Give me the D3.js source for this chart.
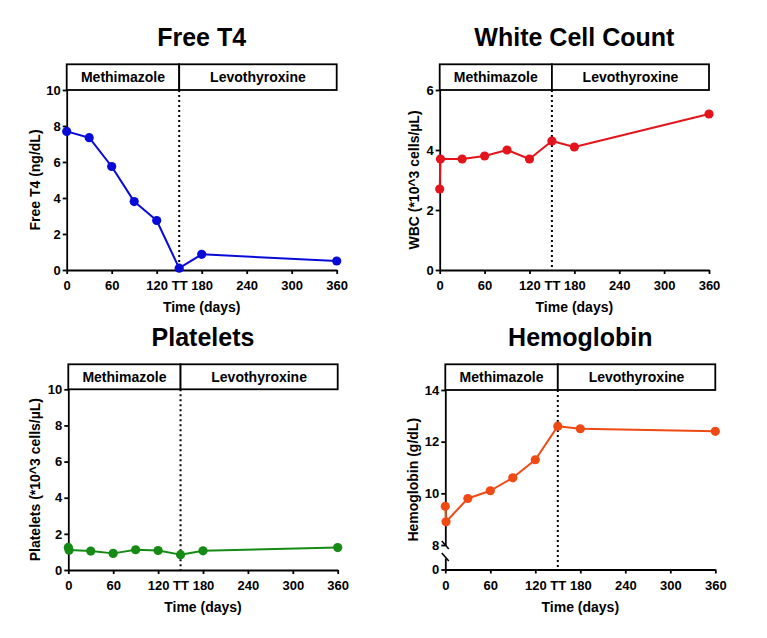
<!DOCTYPE html>
<html>
<head>
<meta charset="utf-8">
<script src="https://cdn.jsdelivr.net/npm/d3@7"></script>
<style>
  html, body { margin: 0; padding: 0; background: #fff; }
  svg { display: block; font-family: "Liberation Sans", Arial, Helvetica, sans-serif; }
</style>
</head>
<body>
<svg id="chart" width="767" height="638"></svg>
<script>
// ---------------- DATA ----------------
const phaseLabels = ["Methimazole", "Levothyroxine"];
const switchDay = 150;            // "TT" marker
const xTickValues = [0, 60, 120, 150, 180, 240, 300, 360];
const xTickLabels = ["0", "60", "120", "TT", "180", "240", "300", "360"];

const t4Days   = [0, 30, 60, 90, 120, 150, 180, 360];
const t4Values = [7.7, 7.35, 5.75, 3.8, 2.75, 0.1, 0.87, 0.5];

const wbcDays   = [0, 1, 30, 60, 90, 120, 150, 180, 360];
const wbcValues = [2.7, 3.7, 3.7, 3.8, 4.0, 3.7, 4.3, 4.1, 5.2];

const pltDays   = [0, 1, 30, 60, 90, 120, 150, 180, 360];
const pltValues = [1.25, 1.1, 1.05, 0.92, 1.12, 1.08, 0.85, 1.06, 1.24];

const hgbDays   = [0, 1, 30, 60, 90, 120, 150, 180, 360];
const hgbValues = [9.5, 8.9, 9.8, 10.1, 10.6, 11.3, 12.6, 12.5, 12.4];

const t4Ticks  = [0, 2, 4, 6, 8, 10];
const wbcTicks = [0, 2, 4, 6];
const pltTicks = [0, 2, 4, 6, 8, 10];
const hgbTicksUpper = [8, 10, 12, 14];
const hgbTicksLower = [0];

// ---------------- DRAW ----------------
const svg = d3.select("#chart");
const fmt = d3.format("d");

function styleAxis(a) {
  a.selectAll("text").style("font-size", "13px").style("font-weight", "bold").attr("fill", "#000");
  a.selectAll("line, path").attr("stroke", "#000").attr("stroke-width", 1.8);
}

function drawPanel(cfg) {
  const g = svg.append("g");
  const x = d3.scaleLinear().domain([0, 360]).range([cfg.x0, cfg.x1]);
  const y = d3.scaleLinear().domain(cfg.yDomain).range([cfg.yBot, cfg.yTop]);

  // Title
  g.append("text")
    .attr("x", (cfg.x0 + cfg.x1) / 2).attr("y", cfg.titleY)
    .attr("text-anchor", "middle")
    .style("font-size", "25px").style("font-weight", "bold")
    .text(cfg.title);

  // Phase header boxes
  const bx = [[0, switchDay], [switchDay, 360]];
  bx.forEach((b, i) => {
    g.append("rect")
      .attr("x", x(b[0])).attr("y", cfg.boxTop)
      .attr("width", x(b[1]) - x(b[0])).attr("height", cfg.yTop - cfg.boxTop)
      .attr("fill", "#fff").attr("stroke", "#000").attr("stroke-width", 1.8);
    g.append("text")
      .attr("x", (x(b[0]) + x(b[1])) / 2)
      .attr("y", (cfg.boxTop + cfg.yTop) / 2 + 5)
      .attr("text-anchor", "middle")
      .style("font-size", "14px").style("font-weight", "bold")
      .text(phaseLabels[i]);
  });

  // Dotted switch line
  g.append("line")
    .attr("x1", x(switchDay)).attr("x2", x(switchDay))
    .attr("y1", cfg.yTop).attr("y2", cfg.yBot)
    .attr("stroke", "#000").attr("stroke-width", 2)
    .attr("stroke-dasharray", "2,3");

  // X axis
  const xAxis = d3.axisBottom(x)
    .tickValues(xTickValues)
    .tickFormat((d, i) => xTickLabels[i])
    .tickSize(4).tickSizeOuter(0).tickPadding(7);
  const xg = g.append("g").attr("transform", `translate(0,${cfg.yBot})`).call(xAxis);
  xg.selectAll(".tick").filter(d => d === switchDay).select("line").remove();
  styleAxis(xg);

  g.append("text")
    .attr("x", (cfg.x0 + cfg.x1) / 2).attr("y", cfg.yBot + 42)
    .attr("text-anchor", "middle")
    .style("font-size", "14px").style("font-weight", "bold")
    .text("Time (days)");

  // Y axis
  let yLine = y;
  if (cfg.broken) {
    const yU = d3.scaleLinear().domain(cfg.yDomain).range([cfg.yBreakTop, cfg.yTop]);
    const yL = d3.scaleLinear().domain([0, 0.5]).range([cfg.yBot, cfg.yBreakBot]);
    const ag1 = g.append("g").attr("transform", `translate(${cfg.x0},0)`)
      .call(d3.axisLeft(yU).tickValues(cfg.yTicks).tickFormat(fmt).tickSize(4).tickSizeOuter(0).tickPadding(2));
    const ag2 = g.append("g").attr("transform", `translate(${cfg.x0},0)`)
      .call(d3.axisLeft(yL).tickValues(cfg.yTicksLower).tickFormat(fmt).tickSize(4).tickSizeOuter(0).tickPadding(2));
    styleAxis(ag1); styleAxis(ag2);
    // break marks
    [cfg.yBreakTop, cfg.yBreakBot - 1].forEach(yy => {
      g.append("line")
        .attr("x1", cfg.x0 - 3.5).attr("y1", yy - 4)
        .attr("x2", cfg.x0 + 3.5).attr("y2", yy + 4)
        .attr("stroke", "#000").attr("stroke-width", 1.6);
    });
    yLine = yU;
  } else {
    const ag = g.append("g").attr("transform", `translate(${cfg.x0},0)`)
      .call(d3.axisLeft(y).tickValues(cfg.yTicks).tickFormat(fmt).tickSize(4).tickSizeOuter(0).tickPadding(2));
    styleAxis(ag);
  }

  g.append("text")
    .attr("transform", `translate(${cfg.yLabelX},${(cfg.yTop + cfg.yBot) / 2}) rotate(-90)`)
    .attr("text-anchor", "middle")
    .style("font-size", "14px").style("font-weight", "bold")
    .text(cfg.yLabel);

  // Series
  const pts = cfg.days.map((d, i) => [d, cfg.values[i]]);
  g.append("path")
    .datum(pts)
    .attr("fill", "none").attr("stroke", cfg.color).attr("stroke-width", 2)
    .attr("stroke-linejoin", "round")
    .attr("d", d3.line().x(d => x(d[0])).y(d => yLine(d[1])));
  g.selectAll("circle.pt").data(pts).enter().append("circle")
    .attr("class", "pt")
    .attr("cx", d => x(d[0])).attr("cy", d => yLine(d[1]))
    .attr("r", 4.6).attr("fill", cfg.color);
}

drawPanel({
  title: "Free T4", yLabel: "Free T4 (ng/dL)", color: "#0a0ad8",
  x0: 66.7, x1: 336.7, yTop: 90, yBot: 270, boxTop: 64.3, titleY: 46, yLabelX: 40,
  yDomain: [0, 10], yTicks: t4Ticks, days: t4Days, values: t4Values
});
drawPanel({
  title: "White Cell Count", yLabel: "WBC (*10^3 cells/µL)", color: "#e4141c",
  x0: 439.7, x1: 709, yTop: 90, yBot: 270, boxTop: 64.3, titleY: 46, yLabelX: 419,
  yDomain: [0, 6], yTicks: wbcTicks, days: wbcDays, values: wbcValues
});
drawPanel({
  title: "Platelets", yLabel: "Platelets (*10^3 cells/µL)", color: "#158a15",
  x0: 68.3, x1: 337.7, yTop: 389.3, yBot: 570, boxTop: 364.3, titleY: 346, yLabelX: 39.5,
  yDomain: [0, 10], yTicks: pltTicks, days: pltDays, values: pltValues
});
drawPanel({
  title: "Hemoglobin", yLabel: "Hemoglobin (g/dL)", color: "#f04a14",
  x0: 445.3, x1: 715.3, yTop: 390, yBot: 569.5, boxTop: 364.3, titleY: 346, yLabelX: 417.5,
  yDomain: [8, 14], yTicks: hgbTicksUpper, yTicksLower: hgbTicksLower,
  broken: true, yBreakTop: 545, yBreakBot: 558,
  days: hgbDays, values: hgbValues
});
</script>
</body>
</html>
